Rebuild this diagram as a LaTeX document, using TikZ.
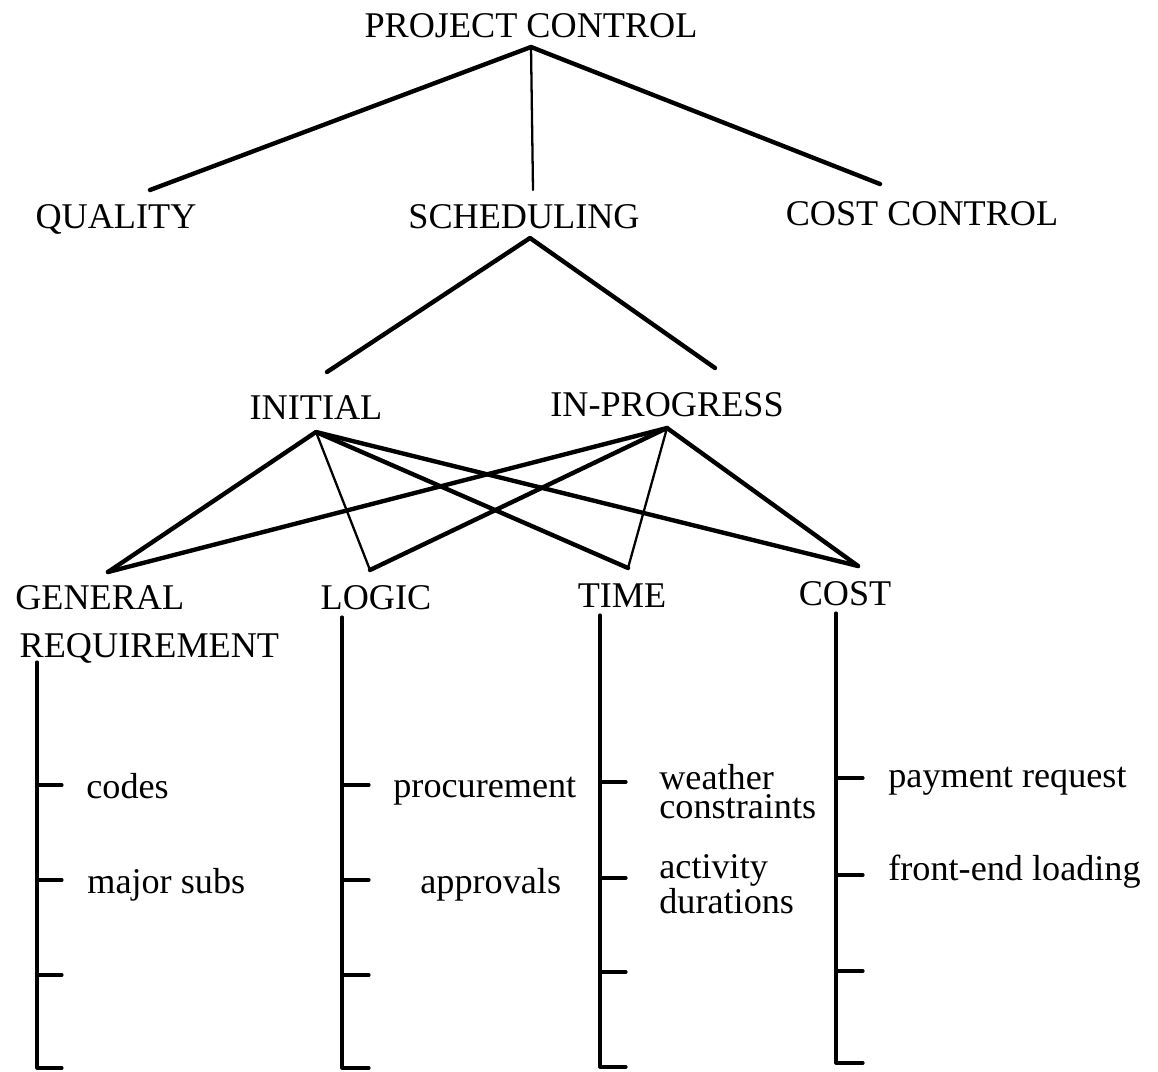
\documentclass[tikz,border=0pt]{standalone}
\usepackage{fontspec}
\setmainfont{Liberation Serif}
\begin{document}
\begin{tikzpicture}[x=0.02cm,y=-0.02cm,line cap=round,line join=round,
  lbl/.style={inner sep=0pt,font=\fontsize{20.6}{24}\selectfont},
  heavy/.style={line width=2.5pt},
  light/.style={line width=1.3pt},
  stem/.style={line width=1.8pt}]
  \useasboundingbox (0,0) rectangle (1158,1071);
  \node[lbl,anchor=base] (pc) at (531,38) {PROJECT CONTROL};
  \node[lbl,anchor=base] (ql) at (116,228) {QUALITY};
  \node[lbl,anchor=base] (sc) at (524,228) {SCHEDULING};
  \node[lbl,anchor=base] (cc) at (922,225) {COST CONTROL};
  \node[lbl,anchor=base] (in) at (316,419) {INITIAL};
  \node[lbl,anchor=base] (ip) at (667,416) {IN-PROGRESS};
  \node[lbl,anchor=base west,align=left,font=\fontsize{20.6}{27.2}\selectfont] (gr) at (15,657) {GENERAL\\\hspace{2.5pt}REQUIREMENT};
  \node[lbl,anchor=base] (lg) at (376,609) {LOGIC};
  \node[lbl,anchor=base] (tm) at (622,607) {TIME};
  \node[lbl,anchor=base] (cs) at (845,605) {COST};
  \coordinate (pcJ) at (531,47);
  \coordinate (qlJ) at (150,190);
  \coordinate (scT) at (533,190);
  \coordinate (ccJ) at (880,184);
  \coordinate (scB) at (530,238);
  \coordinate (inT) at (327,372);
  \coordinate (ipT) at (715,368);
  \coordinate (inB) at (316,432);
  \coordinate (ipB) at (667,428);
  \coordinate (grJ) at (108,572);
  \coordinate (lgJ) at (370,570);
  \coordinate (tmJ) at (628,568);
  \coordinate (csJ) at (858,566);
  \draw[heavy] (qlJ) -- (pcJ) -- (ccJ);
  \draw[light] (pcJ) -- (scT);
  \draw[heavy] (inT) -- (scB) -- (ipT);
  \draw[heavy] (grJ) -- (inB) -- (tmJ);
  \draw[heavy] (inB) -- (csJ);
  \draw[light] (inB) -- (lgJ);
  \draw[heavy] (grJ) -- (ipB) -- (csJ);
  \draw[heavy] (lgJ) -- (ipB);
  \draw[light] (ipB) -- (tmJ);
  \draw[stem] (37,662) -- (37,1068) -- ++(25,0);
  \draw[stem] (342,617) -- (342,1068) -- ++(27,0);
  \draw[stem] (600,615) -- (600,1067) -- ++(26,0);
  \draw[stem] (836,613) -- (836,1063) -- ++(27,0);
  \foreach \x/\ya/\yb/\yc/\l in {37/785/880/975/25,342/785/880/975/27,600/782/878/972/26,836/778/875/971/27}{
    \draw[stem] (\x,\ya) -- ++(\l,0);
    \draw[stem] (\x,\yb) -- ++(\l,0);
    \draw[stem] (\x,\yc) -- ++(\l,0);
  }
  \node[lbl,anchor=base west] (codes) at (86,798) {codes};
  \node[lbl,anchor=base west] (subs) at (87,893) {major subs};
  \node[lbl,anchor=base west] (proc) at (393,797) {procurement};
  \node[lbl,anchor=base west] (appr) at (420,893) {approvals};
  \node[lbl,anchor=base west,align=left,font=\fontsize{20.6}{16}\selectfont] (wthr) at (659,818) {weather\\constraints};
  \node[lbl,anchor=base west,align=left,font=\fontsize{20.6}{14}\selectfont] (actv) at (659,913) {activity\\durations};
  \node[lbl,anchor=base west] (pay) at (888,787) {payment request};
  \node[lbl,anchor=base west] (fel) at (888,880) {front-end loading};
\end{tikzpicture}
\end{document}
